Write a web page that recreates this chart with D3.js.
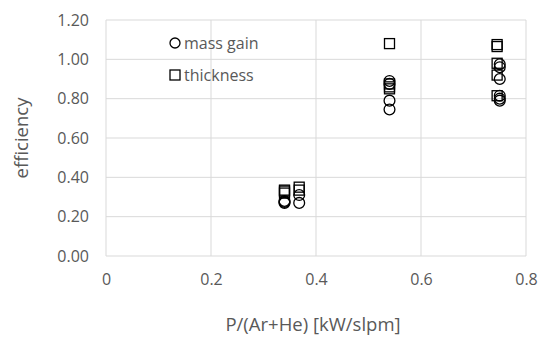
<!DOCTYPE html>
<html>
<head>
<meta charset="utf-8">
<script src="https://cdn.jsdelivr.net/npm/d3@7"></script>
<style>
  body { margin: 0; background: #fff; }
  text { font-family: "Open Sans", "Noto Sans", sans-serif; fill: #595959; }
</style>
</head>
<body>
<div id="chart"></div>
<script>
// mass gain efficiency (circles)
var massX = [0.34, 0.34, 0.34, 0.368, 0.368, 0.54, 0.54, 0.54, 0.54, 0.75, 0.75, 0.75, 0.75, 0.75, 0.75];
var massY = [0.27, 0.275, 0.28, 0.31, 0.27, 0.89, 0.875, 0.79, 0.745, 0.975, 0.96, 0.90, 0.815, 0.80, 0.79];
// thickness efficiency (squares)
var thickX = [0.34, 0.34, 0.34, 0.368, 0.368, 0.54, 0.54, 0.54, 0.54, 0.745, 0.745, 0.745, 0.745, 0.745];
var thickY = [0.33, 0.32, 0.335, 0.35, 0.335, 1.08, 0.875, 0.86, 0.85, 1.075, 1.065, 0.98, 0.92, 0.815];

var xTicks = [0, 0.2, 0.4, 0.6, 0.8];
var yTicks = [0, 0.2, 0.4, 0.6, 0.8, 1.0, 1.2];
var seriesNames = ["mass gain", "thickness"];

var svgWidth = 550, svgHeight = 341;
var margin = {top: 20, right: 24, bottom: 85, left: 106};
var chartWidth = svgWidth - margin.left - margin.right;
var chartHeight = svgHeight - margin.top - margin.bottom;

var svg = d3.select("#chart").append("svg")
  .attr("width", svgWidth)
  .attr("height", svgHeight);

var chartGroup = svg.append("g")
  .attr("transform", `translate(${margin.left},${margin.top})`);

var x = d3.scaleLinear().domain([0, 0.8]).range([0, chartWidth]);
var y = d3.scaleLinear().domain([0, 1.2]).range([chartHeight, 0]);

// gridlines
chartGroup.selectAll("line.hgrid").data(yTicks).enter().append("line")
  .attr("x1", 0).attr("x2", chartWidth)
  .attr("y1", d => y(d)).attr("y2", d => y(d))
  .attr("stroke", "#d9d9d9").attr("stroke-width", 1);
chartGroup.selectAll("line.vgrid").data(xTicks).enter().append("line")
  .attr("y1", 0).attr("y2", chartHeight)
  .attr("x1", d => x(d)).attr("x2", d => x(d))
  .attr("stroke", "#d9d9d9").attr("stroke-width", 1);

// axes (labels only)
var xAxis = chartGroup.append("g")
  .attr("transform", `translate(0, ${chartHeight})`)
  .call(d3.axisBottom(x).tickValues(xTicks).tickSize(0).tickPadding(18).tickFormat(d => d === 0 ? "0" : d3.format(".1f")(d)));
var yAxis = chartGroup.append("g")
  .call(d3.axisLeft(y).tickValues(yTicks).tickSize(0).tickPadding(17).tickFormat(d3.format(".2f")));
[xAxis, yAxis].forEach(function(a) {
  a.select(".domain").remove();
  a.selectAll("text").style("font-size", "16px").attr("fill", "#595959")
    .style("font-family", "'Open Sans', sans-serif");
});

// markers
chartGroup.selectAll("circle.mass").data(massX).enter().append("circle")
  .attr("cx", d => x(d))
  .attr("cy", (d, i) => y(massY[i]))
  .attr("r", 5.4)
  .attr("fill", "none")
  .attr("stroke", "#000")
  .attr("stroke-width", 1.3);

chartGroup.selectAll("rect.thick").data(thickX).enter().append("rect")
  .attr("x", d => x(d) - 5)
  .attr("y", (d, i) => y(thickY[i]) - 5)
  .attr("width", 10).attr("height", 10)
  .attr("fill", "none")
  .attr("stroke", "#000")
  .attr("stroke-width", 1.3);

// legend
var legend = svg.append("g").attr("transform", "translate(175, 43)");
legend.append("circle").attr("cx", 0).attr("cy", 0).attr("r", 5)
  .attr("fill", "none").attr("stroke", "#000").attr("stroke-width", 1.3);
legend.append("text").attr("x", 9).attr("y", 6).style("font-size", "16px").text(seriesNames[0]);
legend.append("rect").attr("x", -5).attr("y", 27).attr("width", 10).attr("height", 10)
  .attr("fill", "none").attr("stroke", "#000").attr("stroke-width", 1.3);
legend.append("text").attr("x", 9).attr("y", 38).style("font-size", "16px").text(seriesNames[1]);

// axis titles
svg.append("text")
  .attr("x", 313)
  .attr("y", 331)
  .attr("text-anchor", "middle")
  .style("font-size", "18.5px")
  .text("P/(Ar+He) [kW/slpm]");

svg.append("text")
  .attr("transform", `translate(28, ${margin.top + chartHeight / 2}) rotate(-90)`)
  .attr("text-anchor", "middle")
  .style("font-size", "18.5px")
  .text("efficiency");
</script>
</body>
</html>
